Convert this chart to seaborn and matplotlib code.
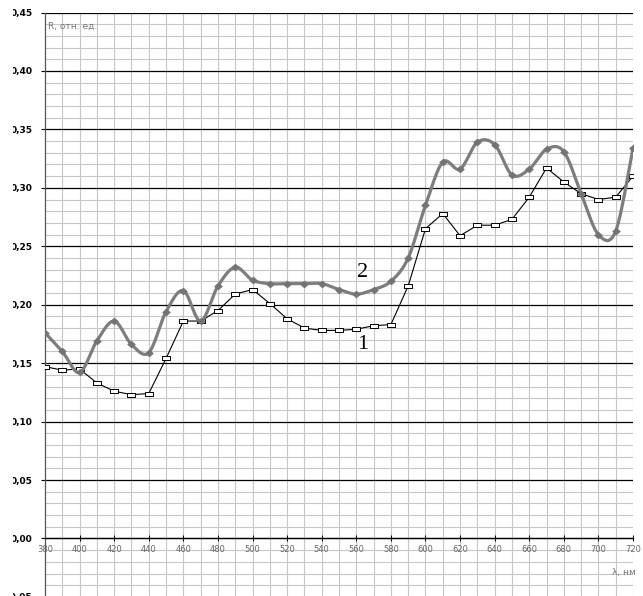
import numpy as np
import pandas as pd
import matplotlib
matplotlib.use("Agg")
import matplotlib.pyplot as plt
import seaborn as sns
from matplotlib.ticker import MultipleLocator, FuncFormatter
from matplotlib.path import Path
from matplotlib.patches import Rectangle

# Reflectance spectra, 380-720 nm in 10 nm steps
wavelength = list(range(380, 721, 10))
r1 = [0.147, 0.144, 0.145, 0.133, 0.126, 0.123, 0.124, 0.154, 0.186, 0.186,
      0.195, 0.209, 0.213, 0.201, 0.188, 0.180, 0.178, 0.178, 0.179, 0.182,
      0.183, 0.216, 0.265, 0.278, 0.259, 0.268, 0.268, 0.273, 0.292, 0.317,
      0.305, 0.295, 0.290, 0.292, 0.310]
r2 = [0.176, 0.160, 0.142, 0.169, 0.186, 0.166, 0.159, 0.194, 0.212, 0.186,
      0.216, 0.232, 0.221, 0.218, 0.218, 0.218, 0.218, 0.213, 0.209, 0.213,
      0.220, 0.240, 0.285, 0.322, 0.316, 0.339, 0.337, 0.311, 0.316, 0.333,
      0.331, 0.295, 0.260, 0.263, 0.334]
curve_labels = ["1", "2"]
label_pos = [(563.5, 0.1656), (563.5, 0.2272)]
y_title = "R, отн. ед."
x_title = "λ, нм"


def smooth_curve(xs, ys, n=24):
    """Bezier smoothing through every point (Catmull-Rom style)."""
    pts = np.column_stack([xs, ys]).astype(float)
    padded = np.vstack([pts[0], pts, pts[-1]])
    t = np.linspace(0, 1, n)[:, None]
    parts = []
    for i in range(len(pts) - 1):
        p0, p1, p2, p3 = padded[i], padded[i + 1], padded[i + 2], padded[i + 3]
        c1 = p1 + (p2 - p0) / 6.0
        c2 = p2 - (p3 - p1) / 6.0
        seg = ((1 - t) ** 3) * p1 + 3 * ((1 - t) ** 2) * t * c1 \
            + 3 * (1 - t) * t ** 2 * c2 + t ** 3 * p2
        parts.append(seg if i == 0 else seg[1:])
    return np.vstack(parts)


sns.set_style("white")
plt.rcParams["font.family"] = ["DejaVu Sans"]

W, H = 643, 596
fig = plt.figure(figsize=(W / 100, H / 100), dpi=100)
# plot area: 0.45 sits 12.5 px below the top edge, -0.05 right at the bottom
ax = fig.add_axes([45 / W, -0.9 / H, 588 / W, 584.4 / H])

ax.set_xlim(380, 720)
ax.set_ylim(-0.05, 0.45)

# grid: 10 nm verticals, 0.01 minor and 0.05 major horizontals
grey = "#c6c6c6"
for xv in range(390, 721, 10):
    ax.axvline(xv, color=grey, lw=0.8, zorder=0)
for k in range(-5, 46):
    yv = k / 100
    if k % 5 == 0:
        ax.axhline(yv, color="black", lw=0.9, zorder=0.5)
    else:
        ax.axhline(yv, color=grey, lw=0.8, zorder=0)

df = pd.DataFrame({"wl": wavelength, "r1": r1, "r2": r2})

rect = Path([(-1, -0.62), (1, -0.62), (1, 0.62), (-1, 0.62), (-1, -0.62)],
            [Path.MOVETO, Path.LINETO, Path.LINETO, Path.LINETO, Path.CLOSEPOLY])
diamond = Path([(-1, 0), (0, 0.9), (1, 0), (0, -0.9), (-1, 0)],
               [Path.MOVETO, Path.LINETO, Path.LINETO, Path.LINETO, Path.CLOSEPOLY])

# curve 1: thin black polyline with open rectangles
sns.lineplot(data=df, x="wl", y="r1", ax=ax, color="black", lw=0.8,
             marker=rect, markersize=5.2, markerfacecolor="white",
             markeredgecolor="black", markeredgewidth=0.7, zorder=3)

# curve 2: thick grey smoothed line with diamonds
sm = smooth_curve(df["wl"], df["r2"])
sm_df = pd.DataFrame({"wl": sm[:, 0], "r": sm[:, 1]})
sns.lineplot(data=sm_df, x="wl", y="r", ax=ax, sort=False, estimator=None,
             color="#7d7d7d", lw=2.3, zorder=4)
sns.scatterplot(data=df, x="wl", y="r2", ax=ax, marker=diamond, s=30,
                color="#737373", edgecolor="#737373", linewidth=0.5, zorder=5)

for txt, (lx, ly) in zip(curve_labels, label_pos):
    ax.text(lx, ly, txt, fontsize=16, family="Liberation Serif",
            ha="center", va="center", color="black", zorder=6)

ax.set_xlabel("")
ax.set_ylabel("")

# axes: y axis at 380 nm, x axis crossing at zero
for s in ["top", "right"]:
    ax.spines[s].set_visible(False)
ax.spines["left"].set_color("#555555")
ax.spines["left"].set_linewidth(0.9)
ax.spines["bottom"].set_position(("data", 0))
ax.spines["bottom"].set_color("black")
ax.spines["bottom"].set_linewidth(0.9)

ax.xaxis.set_major_locator(MultipleLocator(20))
ax.yaxis.set_major_locator(MultipleLocator(0.05))
ax.yaxis.set_major_formatter(FuncFormatter(lambda v, p: f"{v:.2f}".replace(".", ",")))
ax.tick_params(axis="y", direction="out", length=3, width=0.8, pad=6,
               labelsize=6.5, colors="black", left=True)
for lab in ax.get_yticklabels():
    lab.set_fontweight("bold")
ax.tick_params(axis="x", direction="inout", length=4, width=0.7, pad=2.5,
               labelsize=6, labelcolor="#666666", color="black", bottom=True)

ax.text(382, 0.438, y_title, fontsize=6.5, color="#777777", ha="left", va="center")
ax.text(715, -0.029, x_title, fontsize=6.5, color="#777777", ha="center", va="center")

# narrow white margin along the left edge
fig.patches.append(Rectangle((0, 0), 12.5 / W, 1, transform=fig.transFigure,
                             facecolor="white", edgecolor="none", zorder=10))

fig.savefig("out.png", dpi=100)
